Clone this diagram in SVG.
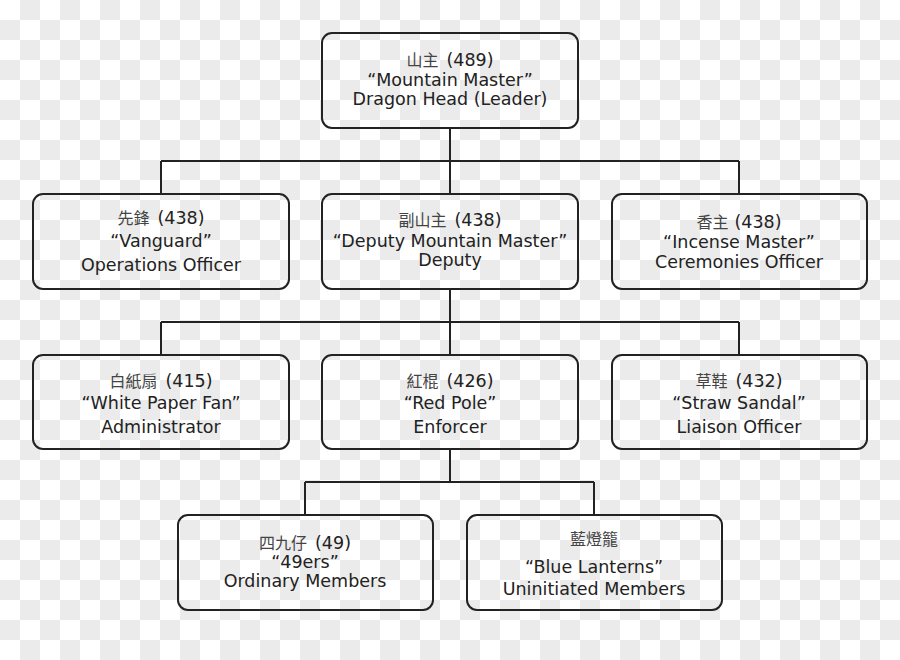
<svg xmlns="http://www.w3.org/2000/svg" width="900" height="660" viewBox="0 0 900 660">
<defs>
<pattern id="checker" x="0" y="0" width="40" height="40" patternUnits="userSpaceOnUse">
<rect x="0" y="0" width="40" height="40" fill="#ffffff"/>
<rect x="20" y="0" width="20" height="20" fill="#ebebeb"/>
<rect x="0" y="20" width="20" height="20" fill="#ebebeb"/>
</pattern>
</defs>
<style>
.box{fill:none;stroke:#222;stroke-width:2}
.conn{fill:none;stroke:#222;stroke-width:2}
text{font-family:"DejaVu Sans","Noto Sans",sans-serif;font-size:17.5px;fill:#222;text-anchor:middle}
.cjk{font-family:"Noto Sans CJK TC","Noto Sans CJK SC",sans-serif;font-size:16px;fill:#444}
</style>
<rect x="0" y="0" width="900" height="660" fill="url(#checker)"/>
<g id="connectors">
<path class="conn" d="M450 128 V161 M161 161 H739 M161 161 V194 M450 161 V194 M739 161 V194"/>
<path class="conn" d="M450 289 V322 M161 322 H739 M161 322 V355 M450 322 V355 M739 322 V355"/>
<path class="conn" d="M450 449 V482 M305 482 H594 M305 482 V515 M594 482 V515"/>
</g>
<g id="n-mountain-master">
<rect class="box" x="322" y="33" width="256" height="95" rx="10"/>
<text x="450" y="66"><tspan class="cjk">山主</tspan><tspan dx="8">(489)</tspan></text>
<text x="450" y="86">“Mountain Master”</text>
<text x="450" y="105">Dragon Head (Leader)</text>
</g>
<g id="n-vanguard">
<rect class="box" x="33" y="194" width="256" height="95" rx="10"/>
<text x="161" y="224"><tspan class="cjk">先鋒</tspan><tspan dx="8">(438)</tspan></text>
<text x="161" y="247">“Vanguard”</text>
<text x="161" y="271">Operations Officer</text>
</g>
<g id="n-deputy">
<rect class="box" x="322" y="194" width="256" height="95" rx="10"/>
<text x="450" y="226"><tspan class="cjk">副山主</tspan><tspan dx="8">(438)</tspan></text>
<text x="450" y="247">“Deputy Mountain Master”</text>
<text x="450" y="266">Deputy</text>
</g>
<g id="n-incense">
<rect class="box" x="612" y="194" width="255" height="95" rx="10"/>
<text x="739" y="228"><tspan class="cjk">香主</tspan><tspan dx="6">(438)</tspan></text>
<text x="739" y="248">“Incense Master”</text>
<text x="739" y="268">Ceremonies Officer</text>
</g>
<g id="n-white-paper-fan">
<rect class="box" x="33" y="355" width="256" height="94" rx="10"/>
<text x="161" y="387"><tspan class="cjk">白紙扇</tspan><tspan dx="8">(415)</tspan></text>
<text x="161" y="409">“White Paper Fan”</text>
<text x="161" y="433">Administrator</text>
</g>
<g id="n-red-pole">
<rect class="box" x="322" y="355" width="256" height="94" rx="10"/>
<text x="450" y="387"><tspan class="cjk">紅棍</tspan><tspan dx="8">(426)</tspan></text>
<text x="450" y="409">“Red Pole”</text>
<text x="450" y="433">Enforcer</text>
</g>
<g id="n-straw-sandal">
<rect class="box" x="612" y="355" width="255" height="94" rx="10"/>
<text x="739" y="387"><tspan class="cjk">草鞋</tspan><tspan dx="8">(432)</tspan></text>
<text x="739" y="409">“Straw Sandal”</text>
<text x="739" y="433">Liaison Officer</text>
</g>
<g id="n-49ers">
<rect class="box" x="178" y="515" width="255" height="95" rx="10"/>
<text x="305" y="549"><tspan class="cjk">四九仔</tspan><tspan dx="8">(49)</tspan></text>
<text x="305" y="568">“49ers”</text>
<text x="305" y="587">Ordinary Members</text>
</g>
<g id="n-blue-lanterns">
<rect class="box" x="467" y="515" width="255" height="95" rx="10"/>
<text x="594" y="545" class="cjk" style="text-anchor:middle">藍燈籠</text>
<text x="594" y="573">“Blue Lanterns”</text>
<text x="594" y="595">Uninitiated Members</text>
</g>
</svg>
